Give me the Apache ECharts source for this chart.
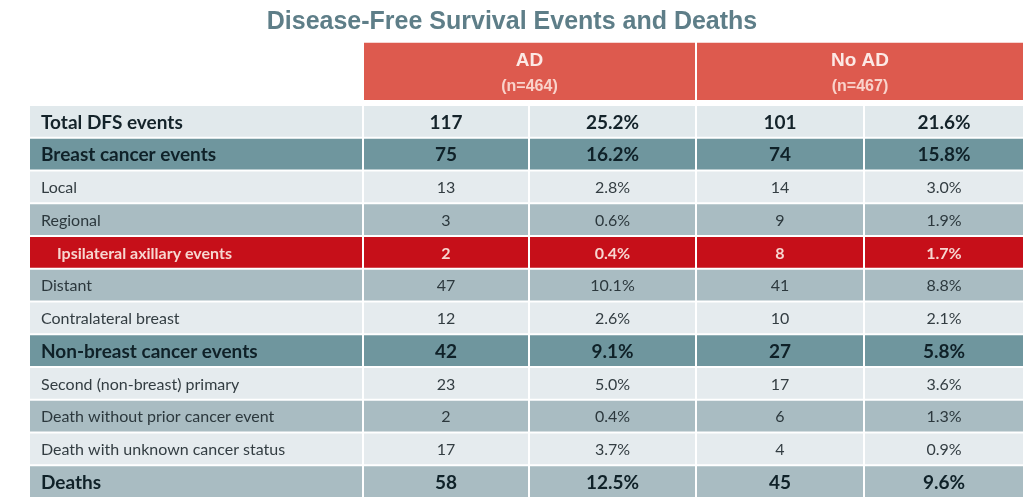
<!DOCTYPE html>
<html><head><meta charset="utf-8">
<script src="https://cdn.jsdelivr.net/npm/echarts@6/dist/echarts.min.js"></script>
<style>html,body{margin:0;padding:0;background:#fff}#c{width:1024px;height:501px}</style>
</head><body><div id="c"></div>
<script>
var titleText = 'Disease-Free Survival Events and Deaths';
var groups = ['AD', 'No AD'];
var groupN = [464, 467];
var categories = ['Total DFS events','Breast cancer events','Local','Regional','Ipsilateral axillary events','Distant','Contralateral breast','Non-breast cancer events','Second (non-breast) primary','Death without prior cancer event','Death with unknown cancer status','Deaths'];
var rowKind = ['total','group','light','mid','axillary','mid','light','group','light','mid','light','deaths'];
var adN = [117,75,13,3,2,47,12,42,23,2,17,58];
var adPct = [25.2,16.2,2.8,0.6,0.4,10.1,2.6,9.1,5.0,0.4,3.7,12.5];
var noAdN = [101,74,14,9,8,41,10,27,17,6,4,45];
var noAdPct = [21.6,15.8,3.0,1.9,1.7,8.8,2.1,5.8,3.6,1.3,0.9,9.6];

var FONT = 'Lato, "Noto Sans", sans-serif';
var kindStyle = {
  total:   {fill:'#e1e9ec', color:'#14232a', bold:true,  size:19},
  group:   {fill:'#6f969e', color:'#0f2128', bold:true,  size:19},
  light:   {fill:'#e5ebee', color:'#333d42', bold:false, size:16},
  mid:     {fill:'#a9bcc2', color:'#2c383d', bold:false, size:16},
  axillary:{fill:'#c60f19', color:'#f7d6d0', bold:true,  size:16},
  deaths:  {fill:'#a9bcc2', color:'#0f2128', bold:true,  size:19}
};
// column boundaries on the (hidden) x value axis
var colEdges = [0, 333, 499, 666, 834, 994];

var cells = [];
for (var i = 0; i < categories.length; i++) {
  cells.push([0, i, categories[i]]);
  cells.push([1, i, String(adN[i])]);
  cells.push([2, i, adPct[i].toFixed(1) + '%']);
  cells.push([3, i, String(noAdN[i])]);
  cells.push([4, i, noAdPct[i].toFixed(1) + '%']);
}
var headers = groups.map(function(g, k){ return [k, g, '(n=' + groupN[k] + ')']; });

var chart = echarts.init(document.getElementById('c'), null, {renderer:'canvas'});
chart.setOption({
  animation:false,
  backgroundColor:'#ffffff',
  title:{text:titleText, left:'center', top:5,
    textStyle:{fontFamily:'"Liberation Sans", Arial, sans-serif', fontSize:25, fontWeight:'bold', color:'#5e7e88'}},
  grid:{left:30, right:0, top:42.8, bottom:3},
  xAxis:{type:'value', min:0, max:994, show:false},
  yAxis:{type:'value', min:-1.9, max:12, inverse:true, show:false},
  series:[
    {type:'custom', data:cells, renderItem:function(params, api){
      var c = api.value(0), r = api.value(1);
      var txt = cells[params.dataIndex][2];
      var st = kindStyle[rowKind[r]];
      var p0 = api.coord([colEdges[c], r]);
      var p1 = api.coord([colEdges[c + 1], r + 1]);
      var x0 = p0[0] + (c === 0 ? 0 : 1), x1 = p1[0] - 1;
      var y0 = p0[1] + 1, y1 = p1[1] - 1;
      var tx, align;
      if (c === 0) { tx = x0 + (rowKind[r] === 'axillary' ? 27 : 11); align = 'left'; }
      else { tx = (x0 + x1) / 2; align = 'center'; }
      return {type:'group', children:[
        {type:'rect', shape:{x:x0, y:y0, width:x1 - x0, height:y1 - y0}, style:{fill:st.fill}},
        {type:'text', x:tx, y:(y0 + y1) / 2 + 1, style:{text:txt, fill:st.color,
          font:(st.bold ? 'bold ' : '') + st.size + 'px ' + FONT, textAlign:align, textVerticalAlign:'middle'}}
      ]};
    }},
    {type:'custom', data:headers, renderItem:function(params, api){
      var k = api.value(0);
      var h = headers[params.dataIndex];
      var p0 = api.coord([colEdges[1 + 2 * k], -1.9]);
      var p1 = api.coord([colEdges[3 + 2 * k], -0.15]);
      var x0 = p0[0] + 1, x1 = p1[0] - 1;
      var cx = (x0 + x1) / 2;
      return {type:'group', children:[
        {type:'rect', shape:{x:x0, y:p0[1], width:x1 - x0, height:p1[1] - p0[1]}, style:{fill:'#dd5a4e'}},
        {type:'text', x:cx, y:p0[1] + 18, style:{text:h[1], fill:'#fce9e5',
          font:'bold 19px "Liberation Sans", Arial, sans-serif', textAlign:'center', textVerticalAlign:'middle'}},
        {type:'text', x:cx, y:p0[1] + 44, style:{text:h[2], fill:'#f9d3cb',
          font:'bold 16px "Liberation Sans", Arial, sans-serif', textAlign:'center', textVerticalAlign:'middle'}}
      ]};
    }}
  ]
});
</script></body></html>
